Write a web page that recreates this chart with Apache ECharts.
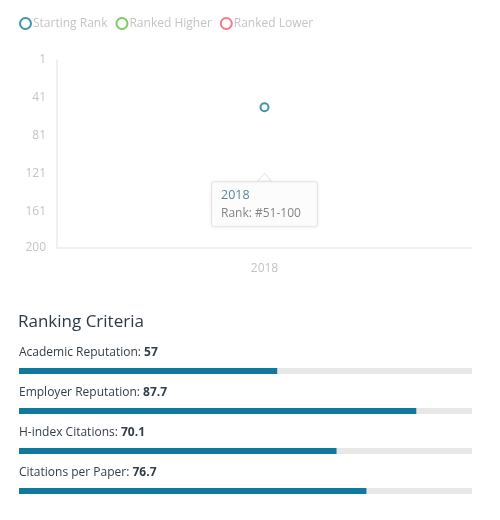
<!DOCTYPE html>
<html>
<head>
<meta charset="utf-8">
<script src="https://cdn.jsdelivr.net/npm/echarts@6/dist/echarts.min.js"></script>
<style>
  html, body { margin: 0; padding: 0; background: #fff; }
  #chart { width: 500px; height: 520px; }
</style>
</head>
<body>
<div id="chart"></div>
<script>
// rank history
const years = ['2018'];
const rankValues = [51];
const rankBands = ['51-100'];
const rankTicks = [1, 41, 81, 121, 161, 200];

// ranking criteria
const criteria = ['Academic Reputation', 'Employer Reputation', 'H-index Citations', 'Citations per Paper'];
const scores = [57, 87.7, 70.1, 76.7];

const teal = '#0f7a9e';
const font = '"Open Sans", sans-serif';

let ec = echarts.init(document.getElementById('chart'));

let option = {
  textStyle: { fontFamily: font },
  animation: false,
  title: {
    text: 'Ranking Criteria',
    left: 13,
    top: 309,
    textStyle: { fontSize: 17, fontWeight: 'normal', color: '#2c3a46', fontFamily: font }
  },
  legend: {
    left: 14,
    top: 12,
    itemWidth: 11,
    itemHeight: 11,
    itemGap: 8,
    data: ['Starting Rank', 'Ranked Higher', 'Ranked Lower'],
    textStyle: { color: '#c4c4c4', fontSize: 12, padding: [0, 0, 0, -3] }
  },
  grid: [
    { left: 57, right: 28, top: 60, bottom: 272 },
    { left: 19, right: 28, top: 351, bottom: 9 }
  ],
  xAxis: [
    {
      gridIndex: 0,
      type: 'category',
      data: years,
      axisLine: { lineStyle: { color: '#ebebeb', width: 1.5 } },
      axisTick: { show: false },
      axisLabel: { color: '#c4c4c4', fontSize: 12, margin: 15 }
    },
    {
      gridIndex: 1,
      type: 'value',
      min: 0,
      max: 100,
      show: false
    }
  ],
  yAxis: [
    {
      gridIndex: 0,
      type: 'value',
      inverse: true,
      min: 1,
      max: 200,
      interval: 40,
      axisLine: { show: true, lineStyle: { color: '#ebebeb', width: 1.5 } },
      axisTick: { show: false },
      splitLine: { show: false },
      axisLabel: {
        color: '#c4c4c4',
        fontSize: 12,
        margin: 11,
        customValues: rankTicks
      }
    },
    {
      gridIndex: 1,
      type: 'category',
      inverse: true,
      data: criteria,
      show: false
    }
  ],
  series: [
    {
      name: 'Starting Rank',
      type: 'scatter',
      xAxisIndex: 0,
      yAxisIndex: 0,
      symbol: 'emptyCircle',
      symbolSize: 8,
      z: 3,
      itemStyle: { color: teal, borderWidth: 3 },
      data: rankValues,
      label: {
        show: true,
        position: 'bottom',
        distance: 70,
        formatter: function (p) {
          return '{y|' + years[p.dataIndex] + '}\n{r|Rank: #' + rankBands[p.dataIndex] + '}';
        },
        backgroundColor: '#fff',
        borderColor: '#e6e6e6',
        borderWidth: 1,
        borderRadius: 2,
        padding: [4, 14, 4, 9],
        shadowColor: 'rgba(0,0,0,0.08)',
        shadowBlur: 4,
        rich: {
          y: { color: '#2f6680', fontSize: 12.5, lineHeight: 18, fontFamily: font, width: 82, align: 'left' },
          r: { color: '#666', fontSize: 12, lineHeight: 18, fontFamily: font, width: 82, align: 'left' }
        }
      }
    },
    {
      // small arrow on top of the tooltip box
      type: 'scatter',
      xAxisIndex: 0,
      yAxisIndex: 0,
      symbol: 'triangle',
      symbolSize: [14, 8],
      symbolOffset: [0, 70],
      z: 2,
      silent: true,
      itemStyle: { color: '#fff', borderColor: '#e6e6e6', borderWidth: 1 },
      data: rankValues
    },
    {
      name: 'Ranked Higher',
      type: 'scatter',
      xAxisIndex: 0,
      yAxisIndex: 0,
      symbol: 'emptyCircle',
      itemStyle: { color: '#5cbd3f', borderWidth: 2 },
      data: []
    },
    {
      name: 'Ranked Lower',
      type: 'scatter',
      xAxisIndex: 0,
      yAxisIndex: 0,
      symbol: 'emptyCircle',
      itemStyle: { color: '#f05a6b', borderWidth: 2 },
      data: []
    },
    {
      type: 'bar',
      xAxisIndex: 1,
      yAxisIndex: 1,
      barWidth: 6,
      data: scores,
      itemStyle: { color: teal },
      showBackground: true,
      backgroundStyle: { color: '#e8e8e8' },
      label: {
        show: true,
        position: [0, -21],
        formatter: function (p) {
          return '{n|' + criteria[p.dataIndex] + ': }{b|' + p.value + '}';
        },
        rich: {
          n: { color: '#333f48', fontSize: 12, fontFamily: font },
          b: { color: '#333f48', fontSize: 12, fontWeight: 'bold', fontFamily: font }
        }
      }
    }
  ]
};

ec.setOption(option);
</script>
</body>
</html>
